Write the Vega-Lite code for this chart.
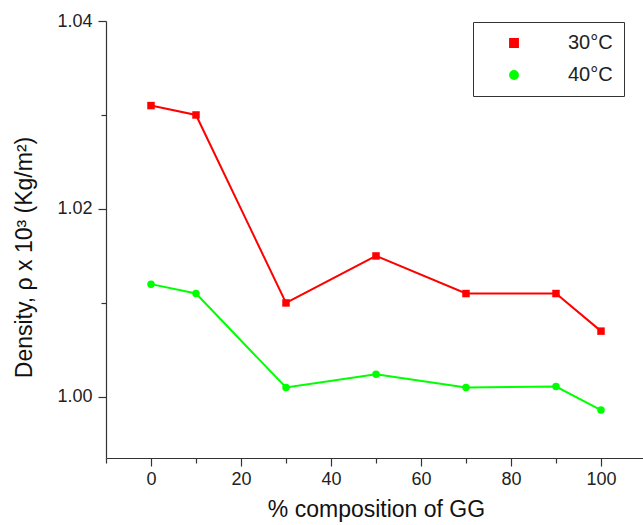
{
  "$schema": "https://vega.github.io/schema/vega-lite/v6.json",
  "width": 540,
  "height": 437,
  "autosize": {"type": "none"},
  "padding": {"left": 106, "top": 21, "right": 0, "bottom": 67},
  "background": "white",
  "config": {
    "view": {"stroke": null},
    "font": "Liberation Sans",
    "axis": {
      "domainColor": "#333333",
      "domainWidth": 1.2,
      "tickColor": "#333333",
      "tickWidth": 1.2,
      "labelFont": "Liberation Sans",
      "labelFontSize": 18,
      "labelColor": "#222222",
      "titleFont": "Liberation Sans",
      "titleFontSize": 23,
      "titleFontWeight": "normal",
      "titleColor": "#111111",
      "grid": false
    }
  },
  "data": {
    "values": [
      {"gg": 0, "density": 1.031, "series": "30°C"},
      {"gg": 10, "density": 1.030, "series": "30°C"},
      {"gg": 30, "density": 1.010, "series": "30°C"},
      {"gg": 50, "density": 1.015, "series": "30°C"},
      {"gg": 70, "density": 1.011, "series": "30°C"},
      {"gg": 90, "density": 1.011, "series": "30°C"},
      {"gg": 100, "density": 1.007, "series": "30°C"},
      {"gg": 0, "density": 1.012, "series": "40°C"},
      {"gg": 10, "density": 1.011, "series": "40°C"},
      {"gg": 30, "density": 1.001, "series": "40°C"},
      {"gg": 50, "density": 1.0024, "series": "40°C"},
      {"gg": 70, "density": 1.001, "series": "40°C"},
      {"gg": 90, "density": 1.0011, "series": "40°C"},
      {"gg": 100, "density": 0.9986, "series": "40°C"}
    ]
  },
  "encoding": {
    "x": {
      "field": "gg",
      "type": "quantitative",
      "scale": {"domain": [-10, 110], "nice": false, "zero": false},
      "axis": {
        "title": "% composition of GG",
        "values": [-10, 0, 10, 20, 30, 40, 50, 60, 70, 80, 90, 100, 110],
        "labelExpr": "datum.value % 20 === 0 ? datum.label : ''",
        "tickSize": {"condition": {"test": "datum.value % 20 !== 0", "value": 5}, "value": 8},
        "labelPadding": 4,
        "titlePadding": 10,
        "labelFlush": false,
        "labelOverlap": false
      }
    },
    "y": {
      "field": "density",
      "type": "quantitative",
      "scale": {"domain": [0.9935, 1.04], "nice": false, "zero": false},
      "axis": {
        "title": "Density, ρ x 10³ (Kg/m²)",
        "values": [1.0, 1.01, 1.02, 1.03, 1.04],
        "format": ".2f",
        "labelExpr": "round(datum.value * 100) % 2 === 0 ? datum.label : ''",
        "tickSize": {"condition": {"test": "round(datum.value * 100) % 2 !== 0", "value": 5}, "value": 8},
        "labelPadding": 6,
        "titlePadding": 20,
        "titleY": 236,
        "labelFlush": false,
        "labelOverlap": false
      }
    }
  },
  "layer": [
    {
      "mark": {"type": "line", "strokeWidth": 2},
      "encoding": {
        "color": {
          "field": "series",
          "type": "nominal",
          "scale": {"domain": ["30°C", "40°C"], "range": ["#ff0000", "#00ff00"]}
        }
      }
    },
    {
      "mark": {"type": "point", "filled": true, "opacity": 1, "size": 56},
      "encoding": {
        "shape": {
          "field": "series",
          "type": "nominal",
          "scale": {"domain": ["30°C", "40°C"], "range": ["square", "circle"]}
        },
        "color": {
          "field": "series",
          "type": "nominal",
          "scale": {"domain": ["30°C", "40°C"], "range": ["#ff0000", "#00ff00"]},
          "legend": {
            "title": null,
            "orient": "none",
            "legendX": 367,
            "legendY": 1,
            "padding": 11,
            "strokeColor": "#333333",
            "fillColor": "white",
            "symbolSize": 70,
            "symbolOffset": 20,
            "labelOffset": 44,
            "labelFont": "Liberation Sans",
            "labelFontSize": 20,
            "labelColor": "#222222",
            "rowPadding": 12
          }
        }
      }
    }
  ]
}
